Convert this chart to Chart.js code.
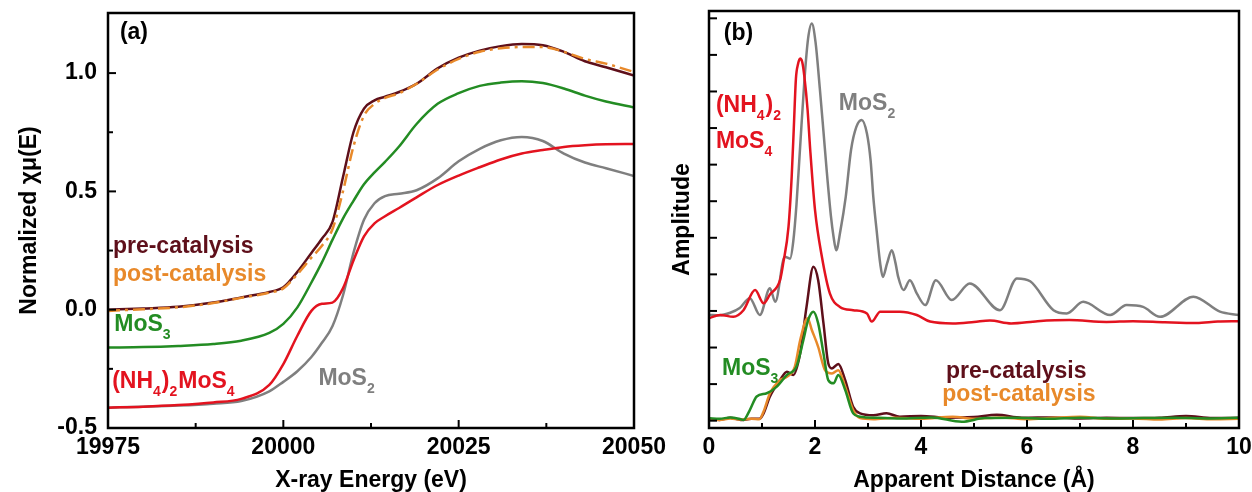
<!DOCTYPE html>
<html>
<head>
<meta charset="utf-8">
<script src="https://cdn.jsdelivr.net/npm/chart.js@4.4.1/dist/chart.umd.min.js"></script>
<style>
  html, body { margin: 0; padding: 0; background: #fff; overflow: hidden; }
  #wrap { position: relative; width: 1252px; height: 492px; }
  canvas { position: absolute; top: 0; }
  #chartA { left: 0; }
  #chartB { left: 640px; }
</style>
</head>
<body>
<div id="wrap">
  <canvas id="chartA" width="670" height="492"></canvas>
  <canvas id="chartB" width="612" height="492"></canvas>
</div>
<script>
// ---- panel (a): XANES, normalized absorption vs energy ----
const energy = [19975, 19980, 19985, 19990, 19994, 19998, 20000, 20002, 20004, 20005.5, 20007, 20008.5,
  20010, 20011.5, 20013, 20014.5, 20016.5, 20019, 20022, 20025, 20028, 20031, 20034, 20037, 20040, 20043, 20046, 20050];
const preCatA = [0.00, 0.005, 0.012, 0.03, 0.052, 0.075, 0.095, 0.16, 0.24, 0.30, 0.37, 0.56,
  0.75, 0.85, 0.885, 0.90, 0.92, 0.955, 1.02, 1.065, 1.095, 1.114, 1.123, 1.118, 1.09, 1.05, 1.025, 0.99];
const postCatA = [-0.005, 0.002, 0.01, 0.028, 0.05, 0.072, 0.09, 0.15, 0.22, 0.27, 0.34, 0.50,
  0.69, 0.82, 0.87, 0.895, 0.915, 0.955, 1.015, 1.06, 1.09, 1.105, 1.11, 1.11, 1.09, 1.06, 1.04, 1.005];
const mos3A = [-0.16, -0.158, -0.153, -0.145, -0.131, -0.098, -0.06, 0.01, 0.115, 0.20, 0.295, 0.385,
  0.46, 0.53, 0.58, 0.625, 0.69, 0.785, 0.87, 0.915, 0.946, 0.96, 0.966, 0.958, 0.935, 0.905, 0.88, 0.855];
const thioA = [-0.414, -0.41, -0.403, -0.392, -0.377, -0.318, -0.23, -0.11, -0.005, 0.025, 0.03, 0.09,
  0.208, 0.31, 0.365, 0.395, 0.43, 0.475, 0.527, 0.567, 0.602, 0.635, 0.66, 0.675, 0.688, 0.695, 0.699, 0.70];
const mos2A = [-0.414, -0.41, -0.405, -0.397, -0.386, -0.345, -0.305, -0.26, -0.2, -0.14, -0.07, 0.06,
  0.24, 0.38, 0.45, 0.48, 0.49, 0.505, 0.555, 0.627, 0.68, 0.716, 0.73, 0.713, 0.66, 0.622, 0.598, 0.565];

// ---- panel (b): Fourier transform amplitude vs apparent distance ----
const mos2Dist = [0, 0.2, 0.4, 0.58, 0.77, 0.96, 1.15, 1.25, 1.43, 1.53, 1.59, 1.65, 1.72, 1.80, 1.87, 1.94, 2.01,
  2.09, 2.16, 2.22, 2.30, 2.35, 2.40, 2.48, 2.58, 2.68, 2.78, 2.88, 2.98, 3.05, 3.10, 3.17, 3.23, 3.28, 3.36,
  3.45, 3.52, 3.57, 3.67, 3.79, 3.92, 4.08, 4.28, 4.58, 4.92, 5.49, 5.81, 6.06, 6.50, 6.75, 7.06, 7.57, 7.88,
  8.19, 8.51, 9.14, 9.64, 10];
const mos2Amp = [2.89, 2.88, 2.95, 3.08, 3.35, 2.89, 3.62, 3.25, 4.48, 4.43, 4.9, 5.9, 7.5, 9.3, 10.45, 10.86, 10.35,
  9.1, 7.9, 6.85, 5.6, 5.03, 4.66, 5.2, 6.12, 7.4, 8.03, 8.22, 7.85, 7.1, 6.12, 5.1, 4.30, 3.93, 4.3,
  4.66, 4.3, 3.93, 3.57, 3.84, 3.48, 3.16, 3.84, 3.30, 3.75, 3.02, 3.89, 3.81, 3.02, 2.93, 3.25, 2.89, 3.16,
  3.11, 2.84, 3.39, 2.98, 2.89];
const thioDist = [0, 0.21, 0.46, 0.65, 0.87, 1.03, 1.15, 1.34, 1.40, 1.50, 1.56, 1.60, 1.64, 1.68, 1.72, 1.76, 1.80,
  1.86, 1.91, 2.00, 2.13, 2.28, 2.47, 2.72, 2.98, 3.07, 3.23, 3.60, 3.92, 4.17, 4.60, 5.0, 5.3, 5.7, 6.2, 6.8,
  7.5, 8.0, 8.6, 9.2, 9.6, 10];
const thioAmp = [2.80, 2.89, 2.84, 3.02, 3.57, 3.21, 3.45, 3.84, 4.30, 5.30, 6.67, 8.0, 9.35, 9.75, 9.90, 9.8, 9.4,
  8.5, 7.40, 5.76, 4.48, 3.48, 3.11, 3.02, 2.93, 2.71, 2.98, 2.98, 2.89, 2.71, 2.66, 2.70, 2.74, 2.66, 2.72, 2.75,
  2.70, 2.72, 2.69, 2.67, 2.71, 2.72];
const preDist = [0, 0.2, 0.4, 0.6, 0.8, 0.95, 1.03, 1.15, 1.34, 1.47, 1.59, 1.72, 1.84, 1.97, 2.06, 2.16, 2.25,
  2.32, 2.44, 2.57, 2.72, 2.85, 3.1, 3.35, 3.6, 4.0, 4.5, 5.0, 5.43, 5.9, 6.5, 7.0, 7.5, 8.0, 8.5, 9.0, 9.5, 10];
const preAmp = [0.05, 0.02, 0.08, 0.02, 0.05, 0.05, 0.2, 0.66, 1.11, 1.34, 1.25, 1.84, 3.11, 4.21, 3.84, 2.66, 1.57,
  1.43, 1.55, 1.11, 0.38, 0.20, 0.15, 0.20, 0.11, 0.13, 0.08, 0.10, 0.16, 0.08, 0.09, 0.06, 0.08, 0.07, 0.08, 0.13, 0.07, 0.08];
const postDist = [0, 0.2, 0.4, 0.6, 0.8, 0.95, 1.03, 1.15, 1.34, 1.47, 1.62, 1.72, 1.86, 1.94, 2.06, 2.19, 2.32,
  2.44, 2.57, 2.72, 2.85, 3.1, 3.5, 4.0, 4.6, 5.0, 5.5, 6.0, 6.5, 7.0, 7.5, 8.0, 8.5, 9.0, 9.5, 10];
const postAmp = [0.04, 0.02, 0.06, 0.03, 0.05, 0.04, 0.25, 0.75, 1.11, 1.2, 1.48, 2.2, 2.80, 2.48, 2.02, 1.38, 1.29,
  1.38, 0.93, 0.29, 0.07, 0.04, 0.08, 0.05, 0.11, 0.05, 0.09, 0.04, 0.08, 0.11, 0.05, 0.06, 0.03, 0.07, 0.04, 0.05];
const mos3Dist = [0, 0.2, 0.4, 0.6, 0.65, 0.77, 0.9, 1.09, 1.28, 1.47, 1.65, 1.78, 1.87, 1.97, 2.06, 2.16, 2.25,
  2.35, 2.44, 2.57, 2.72, 2.85, 3.2, 3.6, 4.2, 4.77, 5.2, 5.8, 6.4, 7.0, 7.6, 8.2, 8.8, 9.4, 10];
const mos3Amp = [0.07, 0.05, 0.09, 0.04, 0.02, 0.29, 0.66, 0.75, 0.93, 1.25, 1.48, 2.2, 2.75, 2.98, 2.66, 1.84, 1.11,
  1.02, 1.25, 0.84, 0.2, 0.11, 0.08, 0.06, 0.09, -0.03, 0.07, 0.08, 0.05, 0.08, 0.06, 0.07, 0.08, 0.06, 0.08];

const MAROON = '#5e0f1a';
const ORANGE = '#e8892a';
const GREEN = '#238c23';
const RED = '#e3131f';
const GRAY = '#7f7f7f';
const FONT = "'Liberation Sans', Arial, sans-serif";

Chart.defaults.font.family = FONT;
Chart.defaults.font.weight = 'bold';
Chart.defaults.font.size = 23;
Chart.defaults.color = '#000';

function line(xs, ys, color, dash) {
    return {
        data: xs.map((x, i) => ({ x: x, y: ys[i] })),
        borderColor: color,
        borderWidth: 2.5,
        borderDash: dash || [],
        pointRadius: 0,
        fill: false,
        cubicInterpolationMode: 'monotone'
    };
}

// box around the plot area and inward tick marks
const framePlugin = {
    id: 'frame',
    afterDatasetsDraw(chart, args, opts) {
        const { ctx, chartArea: a, scales } = chart;
        ctx.save();
        ctx.strokeStyle = '#000';
        ctx.lineWidth = 2;
        ['x', 'y'].forEach(id => {
            const s = scales[id];
            const vals = s.ticks.map(t => t.value);
            const marks = vals.map(v => [v, opts.major]);
            if (opts.minor[id]) {
                for (let i = 0; i < vals.length - 1; i++) marks.push([(vals[i] + vals[i + 1]) / 2, opts.minorLen]);
            }
            marks.forEach(([v, len]) => {
                const p = s.getPixelForValue(v);
                ctx.beginPath();
                if (id === 'x') { ctx.moveTo(p, a.bottom); ctx.lineTo(p, a.bottom - len); }
                else { ctx.moveTo(a.left, p); ctx.lineTo(a.left + len, p); }
                ctx.stroke();
            });
        });
        ctx.lineWidth = 2.5;
        ctx.strokeRect(a.left, a.top, a.right - a.left, a.bottom - a.top);
        ctx.restore();
    }
};

// text notes with subscripts, anchored in data coordinates
const notesPlugin = {
    id: 'notes',
    afterDatasetsDraw(chart, args, opts) {
        const { ctx, scales: { x, y } } = chart;
        ctx.save();
        ctx.textAlign = 'left';
        ctx.textBaseline = 'alphabetic';
        opts.items.forEach(n => {
            let px = x.getPixelForValue(n.x);
            const py = y.getPixelForValue(n.y);
            ctx.fillStyle = n.color;
            n.parts.forEach(part => {
                const sub = Array.isArray(part);
                const txt = sub ? part[0] : part;
                ctx.font = sub ? 'bold 14px ' + FONT : 'bold 23px ' + FONT;
                ctx.fillText(txt, px, sub ? py + 8 : py);
                px += ctx.measureText(txt).width + (sub ? 1 : 0);
            });
        });
        ctx.restore();
    }
};

function fixWidth(w) {
    return s => { s.width = w; s.paddingTop = 0; s.paddingBottom = 0; };
}
function fixHeight(h) {
    return s => { s.height = h; s.paddingLeft = 0; s.paddingRight = 0; };
}

new Chart(document.getElementById('chartA'), {
    type: 'line',
    data: {
        datasets: [
            line(energy, postCatA, ORANGE, [12, 5, 3, 5]),
            line(energy, preCatA, MAROON),
            line(energy, mos3A, GREEN),
            line(energy, thioA, RED),
            line(energy, mos2A, GRAY)
        ]
    },
    options: {
        responsive: false,
        animation: false,
        layout: { padding: { left: 0, right: 36, top: 13, bottom: 0 } },
        plugins: {
            legend: { display: false },
            tooltip: { enabled: false },
            frame: { major: 8, minorLen: 5, minor: { x: true, y: true } },
            notes: {
                items: [
                    { x: 19976.7, y: 1.144, color: '#000', parts: ['(a)'] },
                    { x: 19975.7, y: 0.2415, color: MAROON, parts: ['pre-catalysis'] },
                    { x: 19975.7, y: 0.123, color: ORANGE, parts: ['post-catalysis'] },
                    { x: 19975.9, y: -0.089, color: GREEN, parts: ['MoS', ['3']] },
                    { x: 19975.6, y: -0.33, color: RED, parts: ['(NH', ['4'], ')', ['2'], 'MoS', ['4']] },
                    { x: 20005, y: -0.318, color: GRAY, parts: ['MoS', ['2']] }
                ]
            }
        },
        scales: {
            x: {
                type: 'linear', min: 19975, max: 20050,
                grid: { display: false, drawTicks: false },
                border: { display: false },
                ticks: { stepSize: 25, padding: 6, maxRotation: 0, autoSkip: false, callback: v => String(v) },
                title: { display: true, text: 'X-ray Energy (eV)', font: { lineHeight: 1 }, padding: 0 },
                afterFit: fixHeight(64)
            },
            y: {
                min: -0.5, max: 1.254,
                grid: { display: false, drawTicks: false },
                border: { display: false },
                ticks: { stepSize: 0.5, padding: 11, includeBounds: false, callback: v => v.toFixed(1) },
                title: { display: true, text: 'Normalized χμ(E)', font: { lineHeight: 1 }, padding: { top: 18.5, bottom: 0 } },
                afterFit: fixWidth(108)
            }
        }
    },
    plugins: [framePlugin, notesPlugin]
});

new Chart(document.getElementById('chartB'), {
    type: 'line',
    data: {
        datasets: [
            line(mos3Dist, mos3Amp, GREEN),
            line(postDist, postAmp, ORANGE),
            line(preDist, preAmp, MAROON),
            line(thioDist, thioAmp, RED),
            line(mos2Dist, mos2Amp, GRAY)
        ]
    },
    options: {
        responsive: false,
        animation: false,
        layout: { padding: { left: 0, right: 13, top: 11, bottom: 0 } },
        plugins: {
            legend: { display: false },
            tooltip: { enabled: false },
            frame: { major: 8, minorLen: 5, minor: { x: true, y: false } },
            notes: {
                items: [
                    { x: 0.28, y: 10.40, color: '#000', parts: ['(b)'] },
                    { x: 0.13, y: 8.43, color: RED, parts: ['(NH', ['4'], ')', ['2']] },
                    { x: 0.13, y: 7.45, color: RED, parts: ['MoS', ['4']] },
                    { x: 2.45, y: 8.49, color: GRAY, parts: ['MoS', ['2']] },
                    { x: 0.245, y: 1.25, color: GREEN, parts: ['MoS', ['3']] },
                    { x: 4.47, y: 1.17, color: MAROON, parts: ['pre-catalysis'] },
                    { x: 4.40, y: 0.54, color: ORANGE, parts: ['post-catalysis'] }
                ]
            }
        },
        scales: {
            x: {
                type: 'linear', min: 0, max: 10,
                grid: { display: false, drawTicks: false },
                border: { display: false },
                ticks: { stepSize: 2, padding: 6, maxRotation: 0, autoSkip: false },
                title: { display: true, text: 'Apparent Distance (Å)', font: { lineHeight: 1 }, padding: 0 },
                afterFit: fixHeight(64)
            },
            y: {
                min: -0.2, max: 11.2,
                grid: { display: false, drawTicks: false },
                border: { display: false },
                ticks: { stepSize: 1, display: false, includeBounds: false },
                title: { display: true, text: 'Amplitude', font: { lineHeight: 1 }, padding: { top: 31.5, bottom: 0 } },
                afterFit: fixWidth(69)
            }
        }
    },
    plugins: [framePlugin, notesPlugin]
});
</script>
</body>
</html>
